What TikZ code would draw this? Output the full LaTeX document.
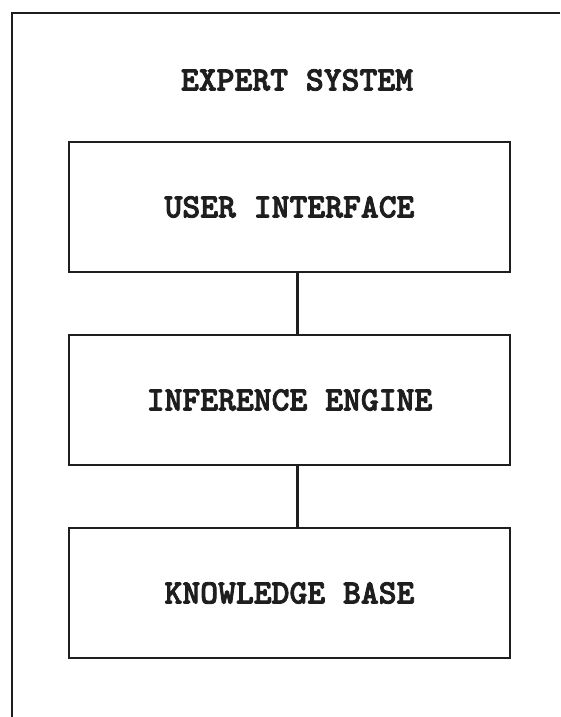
\documentclass[tikz,border=0pt]{standalone}
\usepackage{fontspec}
\newfontfamily\typerfont{lmmonolt10-bold.otf}[FakeBold=2.5]
\usepackage{xcolor}
\usepackage{tikz}
\usetikzlibrary{positioning}

\definecolor{inkgray}{HTML}{1E1E1E}

\begin{document}
\begin{tikzpicture}[x=1pt,y=-1pt,
    layerbox/.style={draw=inkgray, line width=2.4pt, minimum width=441pt,
        minimum height=130pt, inner sep=0pt},
    labeltext/.style={font=\typerfont\fontsize{34}{34}\selectfont, text=inkgray},
    link/.style={draw=inkgray, line width=2.4pt}]
\useasboundingbox (0,0) rectangle (560,717);

% Outer frame (cut off at right and bottom)
\draw[inkgray, line width=2.4pt] (560,13) -- (12,13) -- (12,717);

% Title
\node[labeltext] (title) at (297,80) {EXPERT SYSTEM};

% Layers
\node[layerbox, labeltext] (ui) at (289.5,207) {USER INTERFACE};
\node[layerbox, labeltext] (ie) at (289.5,400) {INFERENCE ENGINE};
\node[layerbox, labeltext] (kb) at (289.5,593) {KNOWLEDGE BASE};

% Connections
\draw[link] ([xshift=8pt]ui.south) -- ([xshift=8pt]ie.north);
\draw[link] ([xshift=8pt]ie.south) -- ([xshift=8pt]kb.north);
\end{tikzpicture}
\end{document}
